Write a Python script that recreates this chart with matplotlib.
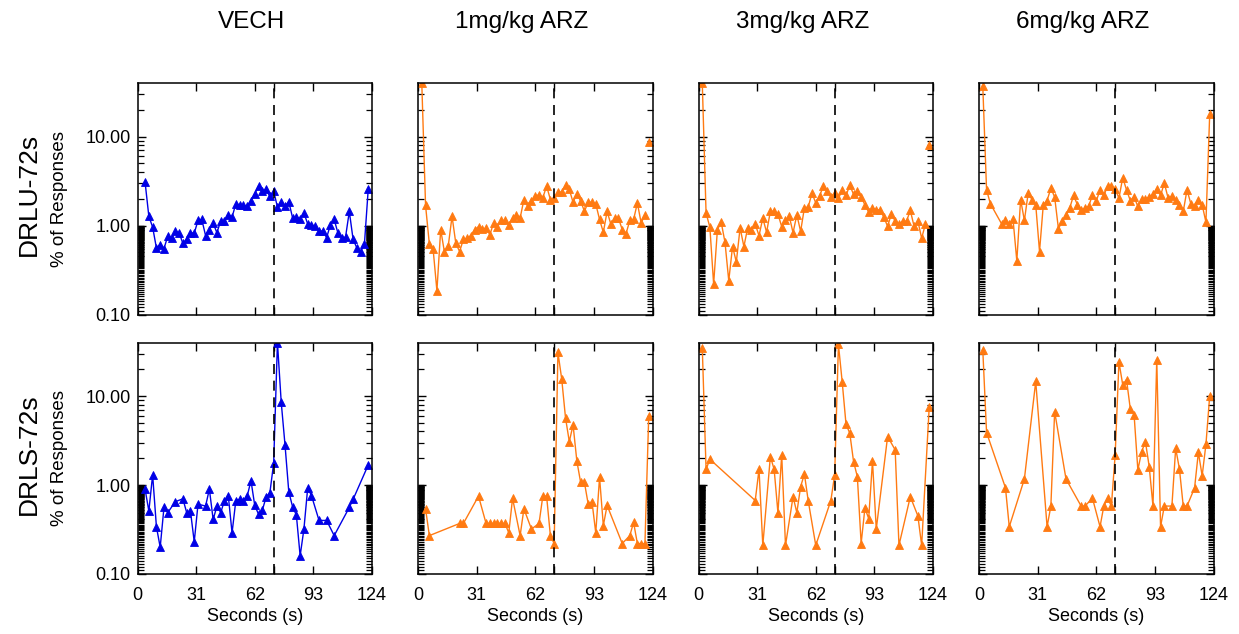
import numpy as np
import matplotlib
matplotlib.use("Agg")
import matplotlib.pyplot as plt
from matplotlib.ticker import NullFormatter, NullLocator

plt.rcParams['font.family'] = ['Liberation Sans', 'DejaVu Sans']

# ---------------- data ----------------
columns = ["VECH", "1mg/kg ARZ", "3mg/kg ARZ", "6mg/kg ARZ"]
rows = ["DRLU-72s", "DRLS-72s"]
colors = ["#0000E6", "#FF7A12", "#FF7A12", "#FF7A12"]
xtick_vals = [0, 31, 62, 72, 93, 124]
xtick_labels = ["0", "31", "62", "", "93", "124"]
ytick_vals = [0.1, 1.0, 10.0]
ytick_labels = ["0.10", "1.00", "10.00"]
split_time = 72

# DRLU row
drlu_vech_x = list(range(4, 123, 2))
drlu_vech_y = [3.08, 1.27, 0.96, 0.56, 0.61, 0.55, 0.76, 0.73, 0.86, 0.83,
               0.63, 0.70, 0.83, 0.82, 1.14, 1.17, 0.77, 0.89, 1.06, 0.83,
               1.13, 1.11, 1.33, 1.24, 1.76, 1.71, 1.68, 1.65, 1.91, 2.27,
               2.78, 2.42, 2.55, 2.12, 2.44, 1.61, 1.86, 1.65, 1.86, 1.22,
               1.24, 1.19, 1.39, 1.04, 1.02, 0.98, 0.86, 0.87, 0.73, 1.02,
               1.17, 0.82, 0.73, 0.74, 1.44, 0.70, 0.56, 0.51, 0.62, 2.55]

drlu_1mg_x = list(range(2, 121, 2)) + [121, 122]
drlu_1mg_y = [40.0, 1.68, 0.62, 0.54, 0.185, 0.90, 0.50, 0.59, 1.27, 0.63,
              0.51, 0.70, 0.72, 0.77, 0.90, 0.97, 0.92, 0.93, 0.79, 1.07,
              0.97, 1.14, 1.14, 1.02, 1.21, 1.33, 1.21, 1.96, 1.65, 1.91,
              2.14, 2.22, 2.05, 2.78, 1.96, 2.05, 2.36, 2.38, 2.83, 2.55,
              1.82, 2.27, 1.88, 1.45, 1.82, 1.83, 1.75, 1.17, 0.84, 1.44,
              1.03, 1.22, 1.21, 0.90, 0.81, 1.14, 1.17, 1.79, 1.07, 1.32,
              np.nan, 8.6]

drlu_3mg_x = list(range(2, 121, 2)) + [121, 122]
drlu_3mg_y = [40.0, 1.38, 0.96, 0.22, 0.90, 1.09, 0.65, 0.24, 0.58, 0.39,
              0.94, 0.58, 0.94, 0.89, 1.04, 0.77, 1.21, 0.84, 1.44, 1.45,
              1.35, 0.97, 1.14, 1.27, 0.83, 1.32, 0.86, 1.58, 1.61, 2.31,
              1.80, 2.14, 2.78, 2.44, 2.09, 2.33, 2.03, 2.48, 2.18, 2.83,
              2.24, 2.44, 2.09, 1.71, 1.41, 1.58, 1.50, 1.50, 1.24, 0.98,
              1.35, 1.12, 1.04, 1.12, 1.12, 1.48, 0.98, 1.12, 0.72, 1.04,
              np.nan, 8.1]

drlu_6mg_x = [2, 4, 6] + list(range(12, 123, 2))
drlu_6mg_y = [37.0, 2.52, 1.76, 1.04, 1.14, 1.04, 1.17, 0.40, 1.96, 1.14,
              2.31, 1.96, 1.71, 0.51, 1.71, 1.91, 2.63, 2.09, 0.92, 1.12,
              1.30, 1.58, 2.18, 1.72, 1.48, 1.57, 1.64, 2.22, 1.88, 2.52,
              2.18, 2.78, 2.78, 2.59, 2.03, 3.45, 2.52, 1.91, 2.09, 1.64,
              2.00, 2.00, 2.09, 2.24, 2.59, 2.18, 3.00, 2.03, 2.14, 1.95,
              1.72, 1.44, 2.52, 1.76, 1.65, 1.95, 1.71, 1.09, 18.0]

# DRLS row
drls_vech_x = [4, 6, 8, 10, 12, 14, 16, 20, 24, 26, 28, 30, 32, 36, 38, 40,
               42, 44, 46, 48, 50, 52, 54, 56, 58, 60, 62, 64, 66, 68, 70,
               72, 74, 76, 78, 80, 82, 84, 86, 88, 90, 92, 96, 100, 104,
               112, 114, 122]
drls_vech_y = [0.90, 0.51, 1.30, 0.34, 0.20, 0.56, 0.49, 0.65, 0.70, 0.49,
               0.51, 0.23, 0.61, 0.58, 0.90, 0.41, 0.58, 0.49, 0.67, 0.76,
               0.29, 0.67, 0.69, 0.67, 0.75, 1.12, 0.59, 0.47, 0.52, 0.73,
               0.82, 1.76, 40.0, 8.5, 2.83, 0.84, 0.57, 0.46, 0.16, 0.32,
               0.93, 0.76, 0.40, 0.40, 0.27, 0.56, 0.69, 1.68]

drls_1mg_x = [4, 6, 22, 24, 32, 36, 38, 40, 42, 44, 46, 48, 50, 54, 56, 60,
              64, 66, 68, 70, 72, 74, 76, 78, 80, 82, 84, 86, 88, 90, 92,
              94, 96, 98, 100, 108, 112, 114, 116, 118, 120, 122]
drls_1mg_y = [0.54, 0.27, 0.37, 0.37, 0.75, 0.37, 0.37, 0.37, 0.37, 0.37,
              0.37, 0.29, 0.71, 0.27, 0.54, 0.32, 0.37, 0.75, 0.75, 0.27,
              0.22, 31.0, 15.5, 5.7, 3.08, 4.74, 1.86, 1.07, 1.07, 0.61,
              0.65, 0.29, 1.22, 0.35, 0.59, 0.22, 0.27, 0.38, 0.22, 0.22,
              0.22, 5.9]

drls_3mg_x = [2, 4, 6, 30, 32, 34, 38, 40, 42, 44, 46, 50, 52, 54, 56, 58,
              62, 70, 72, 74, 76, 78, 80, 82, 84, 86, 88, 90, 92, 94, 100,
              104, 106, 112, 116, 118, 122]
drls_3mg_y = [35.0, 1.50, 1.95, 0.67, 1.50, 0.21, 2.09, 1.50, 0.49, 2.18,
              0.21, 0.74, 0.49, 0.96, 1.33, 0.67, 0.21, 0.67, 1.30, 38.0,
              14.3, 4.83, 3.82, 1.83, 1.24, 0.22, 0.55, 0.42, 1.86, 0.32,
              3.51, 2.48, 0.21, 0.74, 0.45, 0.21, 7.5]

drls_6mg_x = [2, 4, 14, 16, 24, 30, 36, 38, 40, 46, 54, 56, 60, 64, 66, 68,
              70, 72, 74, 76, 78, 80, 82, 84, 86, 88, 90, 92, 94, 96, 98,
              102, 104, 106, 108, 110, 114, 116, 118, 120, 122]
drls_6mg_y = [33.0, 3.89, 0.93, 0.34, 1.17, 14.6, 0.34, 0.58, 6.7, 1.17,
              0.58, 0.58, 0.71, 0.34, 0.58, 0.71, 0.58, 2.18, 24.2, 13.4,
              15.3, 7.2, 6.2, 1.48, 2.37, 3.08, 1.61, 0.58, 25.7, 0.34,
              0.58, 0.58, 2.59, 1.51, 0.58, 0.58, 0.93, 2.33, 1.27, 2.87,
              10.1]

series = [
    [(drlu_vech_x, drlu_vech_y), (drlu_1mg_x, drlu_1mg_y),
     (drlu_3mg_x, drlu_3mg_y), (drlu_6mg_x, drlu_6mg_y)],
    [(drls_vech_x, drls_vech_y), (drls_1mg_x, drls_1mg_y),
     (drls_3mg_x, drls_3mg_y), (drls_6mg_x, drls_6mg_y)],
]

# ---------------- figure ----------------
W, H = 1239, 634
fig = plt.figure(figsize=(W / 100, H / 100), dpi=100)

col_left = [137.5, 418.0, 698.5, 979.0]
title_x = [252, 522, 803, 1083]
panel_w = 234.5
row_top = [83.0, 342.5]
panel_h = 231.5

minor_y = list(np.round(np.arange(0.11, 1.0, 0.01), 2)) + list(range(2, 10)) + [20, 30]

for r in range(2):
    for c in range(4):
        x0 = col_left[c] / W
        y0 = 1 - (row_top[r] + panel_h) / H
        ax = fig.add_axes([x0, y0, panel_w / W, panel_h / H])
        xs, ys = series[r][c]
        ax.plot(xs, ys, color=colors[c], lw=1.0, marker='^', ms=5.5,
                markeredgewidth=0.6, markeredgecolor=colors[c])
        ax.axvline(split_time, color='black', lw=1.2, ls=(0, (6, 4)))
        ax.set_yscale('log')
        ax.set_xlim(0, 124)
        ax.set_ylim(0.1, 40)
        ax.set_xticks(xtick_vals)
        ax.set_yticks(ytick_vals)
        ax.set_yticks(minor_y, minor=True)
        ax.yaxis.set_minor_formatter(NullFormatter())
        ax.xaxis.set_minor_locator(NullLocator())
        if r == 1:
            ax.set_xticklabels(xtick_labels)
            ax.set_xlabel("Seconds (s)", fontsize=13, labelpad=3)
        else:
            ax.set_xticklabels([])
        if c == 0:
            ax.set_yticklabels(ytick_labels)
        else:
            ax.set_yticklabels([])
        ax.tick_params(which='major', direction='in', length=6, width=1.0,
                       top=True, right=True, labelsize=13)
        ax.tick_params(axis='x', which='major', pad=9)
        ax.tick_params(axis='y', which='major', pad=5)
        ax.tick_params(which='minor', direction='in', length=4, width=0.9,
                       top=True, right=True)
        for s in ax.spines.values():
            s.set_linewidth(1.1)
        if r == 0:
            fig.text(title_x[c] / W, 1 - 22 / H, columns[c],
                     ha='center', va='center', fontsize=17.5)
    yc = 1 - (row_top[r] + panel_h / 2) / H
    fig.text(29 / W, yc + 4 / H, rows[r], rotation=90, ha='center', va='center',
             fontsize=19)
    fig.text(60 / W, yc, "% of Responses", rotation=90, ha='center',
             va='center', fontsize=13.5)

fig.savefig("out.png", dpi=100)
